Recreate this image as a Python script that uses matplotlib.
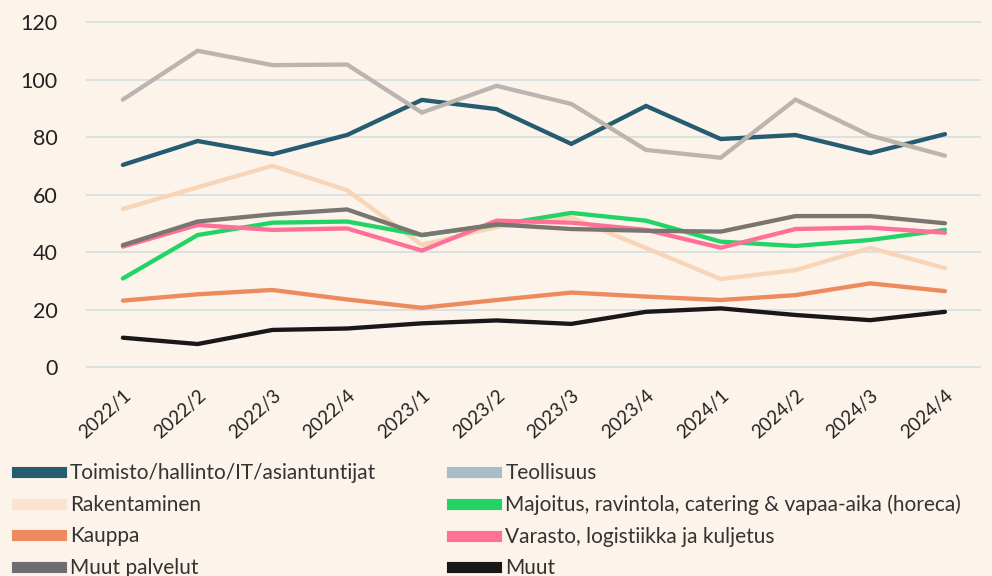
import matplotlib.pyplot as plt
from matplotlib.lines import Line2D

# Data
quarters = ["2022/1", "2022/2", "2022/3", "2022/4", "2023/1", "2023/2",
            "2023/3", "2023/4", "2024/1", "2024/2", "2024/3", "2024/4"]

toimisto = [70.3, 78.6, 74.0, 80.7, 92.9, 89.7, 77.6, 90.8, 79.3, 80.7, 74.4, 81.0]
teollisuus = [93.0, 110.0, 105.0, 105.2, 88.5, 97.8, 91.5, 75.5, 72.8, 93.0, 80.5, 73.5]
rakentaminen = [55.0, 62.5, 70.0, 61.5, 42.5, 48.7, 52.0, 41.4, 30.6, 33.7, 41.4, 34.4]
majoitus = [30.8, 45.9, 50.2, 50.6, 45.9, 49.4, 53.6, 50.9, 43.6, 42.1, 44.2, 47.7]
kauppa = [23.1, 25.3, 26.8, 23.5, 20.6, 23.3, 25.9, 24.5, 23.3, 25.0, 29.1, 26.4]
varasto = [41.9, 49.4, 47.7, 48.2, 40.5, 50.9, 50.2, 47.7, 41.5, 48.0, 48.5, 46.7]
muut_palvelut = [42.4, 50.6, 53.1, 54.8, 45.9, 49.6, 48.0, 47.4, 47.1, 52.5, 52.5, 50.0]
muut = [10.2, 8.0, 12.9, 13.4, 15.2, 16.2, 15.0, 19.2, 20.4, 18.1, 16.3, 19.2]

labels = ["Toimisto/hallinto/IT/asiantuntijat", "Teollisuus", "Rakentaminen",
          "Majoitus, ravintola, catering & vapaa-aika (horeca)", "Kauppa",
          "Varasto, logistiikka ja kuljetus", "Muut palvelut", "Muut"]

BG = "#fcf3ea"
TXT = "#222222"

fig = plt.figure(figsize=(9.92, 5.76), dpi=100, facecolor=BG)
ax = fig.add_axes([0.0877, 0.3628, 0.9003, 0.599])
ax.set_facecolor(BG)

x = list(range(len(quarters)))
series = [
    (toimisto, "#255c70", "#255c70"),
    (teollisuus, "#bcb4ae", "#a8bec6"),
    (rakentaminen, "#f7d5b6", "#fbe3cf"),
    (majoitus, "#22d465", "#22d465"),
    (kauppa, "#ed8a5e", "#ed8a5e"),
    (varasto, "#ff7099", "#ff7099"),
    (muut_palvelut, "#7b7572", "#6e6d72"),
    (muut, "#1a1718", "#1a1718"),
]
# drawing order: background lines first
order = [1, 2, 4, 3, 6, 5, 0, 7]
for i in order:
    vals, col, _ = series[i]
    ax.plot(x, vals, color=col, lw=3.1, solid_capstyle="round",
            solid_joinstyle="miter", zorder=3 + i * 0.1)

ax.set_ylim(0, 120)
ax.set_xlim(-0.48, 11.47)
ax.set_yticks(range(0, 121, 20))
ax.yaxis.grid(True, color="#d8dfe0", lw=1.3, zorder=0)
for gl in ax.get_ygridlines():
    gl.set_clip_on(False)
ax.set_axisbelow(True)
for s in ax.spines.values():
    s.set_visible(False)
ax.tick_params(length=0)
ax.tick_params(axis="y", pad=21, labelsize=15.5, labelcolor=TXT)
ax.set_xticks(x)
ax.set_xticklabels(quarters, rotation=42, ha="right", rotation_mode="anchor",
                   fontsize=13.5, color=TXT, family="Lato")
for t in ax.get_yticklabels():
    t.set_family("Lato")
ax.tick_params(axis="x", pad=14)

# legend, row-wise order in two columns
handles = [Line2D([], [], color=c, lw=8) for _, _, c in series]
col_order = [0, 2, 4, 6, 1, 3, 5, 7]
leg = fig.legend([handles[i] for i in col_order], [labels[i] for i in col_order],
                 ncol=2, loc="upper left", bbox_to_anchor=(-0.002, 0.228),
                 frameon=False, handlelength=2.1, handletextpad=0.45,
                 columnspacing=3.65, labelspacing=0.55,
                 prop={"family": "Lato", "size": 15})
for t in leg.get_texts():
    t.set_color("#333333")

fig.savefig("out.png", dpi=100, facecolor=BG)
